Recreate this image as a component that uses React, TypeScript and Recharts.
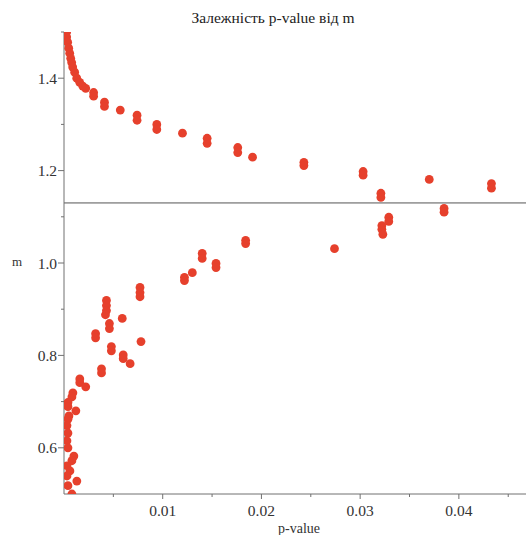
import { ReferenceLine, Scatter, ScatterChart, XAxis, YAxis } from "recharts";

// верхня гілка (m > порогу)
const upperP = [
  0.00027, 0.00027, 0.00037, 0.00048, 0.00058, 0.00068, 0.00078, 0.00088, 0.00108, 0.00129,
  0.00159, 0.0019, 0.0022, 0.003, 0.003, 0.0041, 0.0041, 0.0057, 0.0074, 0.0074,
  0.0094, 0.0094, 0.012, 0.0145, 0.0145, 0.0176, 0.0176, 0.0191, 0.0243, 0.0243,
  0.0303, 0.0303, 0.0321, 0.0321, 0.037, 0.0433, 0.0433,
];
const upperM = [
  1.5, 1.489, 1.478, 1.465, 1.454, 1.443, 1.434, 1.424, 1.413, 1.4,
  1.391, 1.383, 1.378, 1.369, 1.361, 1.348, 1.339, 1.331, 1.32, 1.309,
  1.3, 1.289, 1.281, 1.27, 1.259, 1.25, 1.239, 1.229, 1.218, 1.211,
  1.198, 1.19, 1.151, 1.142, 1.181, 1.172, 1.162,
];

// нижня гілка
const lowerP = [
  0.0385, 0.0385, 0.0329, 0.0329, 0.0322, 0.0322, 0.0323, 0.0274, 0.0184, 0.0184,
  0.014, 0.014, 0.0154, 0.0154, 0.0122, 0.0122, 0.013, 0.0077, 0.0077, 0.0077,
  0.0043, 0.0043, 0.0043, 0.0042, 0.0032, 0.0032, 0.0046, 0.0046, 0.0059, 0.0048,
  0.0048, 0.006, 0.006, 0.0067, 0.0078, 0.0038, 0.0038, 0.0016, 0.0016, 0.0022,
  0.0009, 0.0008, 0.0004, 0.0004, 0.0012, 0.0005, 0.0004, 0.0003, 0.0004, 0.0003,
  0.0004, 0.001, 0.0008, 0.0003, 0.0006, 0.0003, 0.0013, 0.0004, 0.0008,
];
const lowerM = [
  1.118, 1.11, 1.099, 1.09, 1.081, 1.073, 1.062, 1.031, 1.049, 1.042,
  1.021, 1.01, 0.999, 0.99, 0.969, 0.962, 0.979, 0.947, 0.936, 0.927,
  0.919, 0.908, 0.897, 0.888, 0.847, 0.838, 0.869, 0.858, 0.88, 0.819,
  0.81, 0.801, 0.793, 0.782, 0.83, 0.771, 0.762, 0.749, 0.741, 0.732,
  0.719, 0.71, 0.698, 0.689, 0.68, 0.669, 0.662, 0.648, 0.632, 0.615,
  0.6, 0.582, 0.572, 0.561, 0.55, 0.539, 0.528, 0.518, 0.5,
];

const THRESHOLD = 1.13;
const X_TICKS = [0.005, 0.01, 0.015, 0.02, 0.025, 0.03, 0.035, 0.04, 0.045];
const Y_TICKS = [0.6, 0.7, 0.8, 0.9, 1.0, 1.1, 1.2, 1.3, 1.4, 1.5];

const DOT = "#e6402c";
const AXIS = "#707070";
const FONT = "Liberation Serif, Times New Roman, serif";

const toPoints = (p: number[], m: number[]) => p.map((v, i) => ({ p: v, m: m[i] }));
const upper = toPoints(upperP, upperM);
const lower = toPoints(lowerP, lowerM);

const isMajor = (v: number, step: number) =>
  Math.abs(v / step - Math.round(v / step)) < 1e-6;

function XTick({ x, y, payload }: any) {
  const major = isMajor(payload.value, 0.01);
  return (
    <g>
      <line x1={x} x2={x} y1={y} y2={y + (major ? 5 : 3)} stroke={AXIS} />
      {major && (
        <text x={x} y={y + 22} textAnchor="middle" fontSize={15.5} fill="#333" fontFamily={FONT}>
          {payload.value.toFixed(2)}
        </text>
      )}
    </g>
  );
}

function YTick({ x, y, payload }: any) {
  const major = isMajor(payload.value, 0.2);
  return (
    <g>
      <line x1={x - (major ? 6 : 3)} x2={x} y1={y} y2={y} stroke={AXIS} />
      {major && (
        <text x={x - 7} y={y + 5.5} textAnchor="end" fontSize={15.5} fill="#333" fontFamily={FONT}>
          {payload.value.toFixed(1)}
        </text>
      )}
    </g>
  );
}

const dot = (props: any) => <circle cx={props.cx} cy={props.cy} r={4.4} fill={DOT} />;

export default function App() {
  return (
    <div style={{ position: "absolute", left: 0, top: 0, width: 526, height: 535, background: "#fff", fontFamily: FONT, lineHeight: "normal" }}>
      <div style={{ position: "absolute", top: 9, left: 0, width: 546, textAlign: "center", fontSize: 15.5, color: "#222" }}>
        Залежність p-value від m
      </div>
      <div style={{ position: "absolute", top: 254, left: 12, fontSize: 13, color: "#333" }}>m</div>
      <div style={{ position: "absolute", top: 521, left: 278, fontSize: 14, color: "#333" }}>p-value</div>
      <ScatterChart width={526} height={535} margin={{ top: 32, right: 0, bottom: 0, left: 0 }}>
        <XAxis
          type="number"
          dataKey="p"
          domain={[0, 0.0468]}
          ticks={X_TICKS}
          tick={<XTick />}
          tickLine={false}
          tickSize={0}
          tickMargin={0}
          height={41}
          axisLine={{ stroke: AXIS }}
          interval={0}
          allowDataOverflow
        />
        <YAxis
          type="number"
          dataKey="m"
          domain={[0.5, 1.5]}
          ticks={Y_TICKS}
          tick={<YTick />}
          tickLine={false}
          tickSize={0}
          tickMargin={0}
          width={64}
          axisLine={{ stroke: AXIS }}
          interval={0}
          allowDataOverflow
        />
        <ReferenceLine y={THRESHOLD} stroke="#555" strokeWidth={1} />
        <Scatter data={upper} shape={dot} isAnimationActive={false} />
        <Scatter data={lower} shape={dot} isAnimationActive={false} />
      </ScatterChart>
    </div>
  );
}
